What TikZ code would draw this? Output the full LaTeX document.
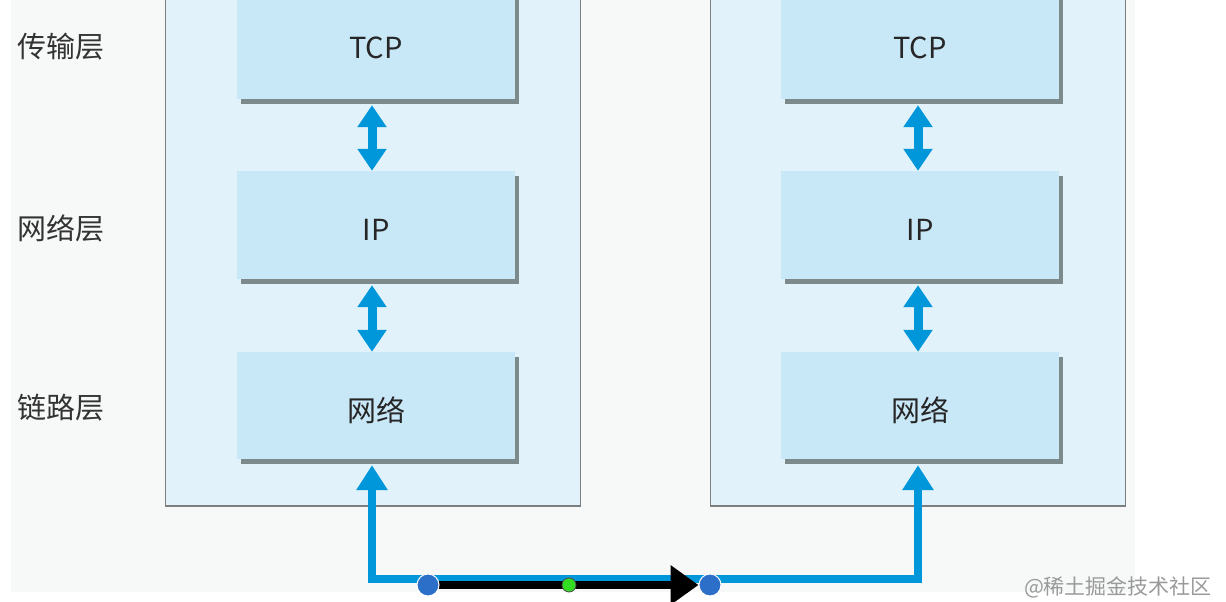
\documentclass[tikz,border=0pt]{standalone}
\usepackage{fontspec}
\setmainfont{Noto Sans CJK SC}
\usetikzlibrary{arrows.meta,shadows}
\definecolor{bg}{HTML}{F7F8F8}
\definecolor{outerfill}{HTML}{E2F2FA}
\definecolor{innerfill}{HTML}{C9E8F7}
\definecolor{bordergray}{HTML}{7B7F80}
\definecolor{shadowgray}{HTML}{7D8A8C}
\definecolor{arrowblue}{HTML}{0096DA}
\definecolor{dotblue}{HTML}{2B6FC8}
\definecolor{dotgreen}{HTML}{33DD22}
\definecolor{wmgray}{HTML}{9A9A9A}
\pgfdeclarelayer{front}
\pgfsetlayers{main,front}
\tikzset{
  outerbox/.style={draw=bordergray, line width=1.5pt, fill=outerfill, minimum width=415pt, inner sep=0pt},
  layerbox/.style={fill=innerfill, minimum width=278pt, inner sep=0pt,
    general shadow={fill=shadowgray, shadow xshift=4pt, shadow yshift=-5pt}},
  layertext/.style={font=\fontsize{29pt}{29pt}\selectfont, text=black!85, inner sep=0pt},
  sidelabel/.style={font=\fontsize{29pt}{29pt}\selectfont, text=black!80, inner sep=0pt},
  dblarrow/.style={draw=arrowblue, line width=9pt,
    {Triangle[length=22pt,width=28pt]}-{Triangle[length=22pt,width=28pt]}},
  buspath/.style={draw=arrowblue, line width=8pt, line join=miter,
    {Triangle[length=25pt,width=30pt]}-{Triangle[length=25pt,width=30pt]}},
  blackarrow/.style={draw=black, line width=8pt, -{Triangle[length=28pt,width=38pt]}},
  bluedot/.style={circle, fill=dotblue, draw=white, line width=1pt, minimum size=22pt, inner sep=0pt},
  greendot/.style={circle, fill=dotgreen, draw=black!70, line width=0.8pt, minimum size=14pt, inner sep=0pt},
  watermark/.style={font=\fontsize{21pt}{21pt}\selectfont, text=wmgray, inner sep=0pt}
}
\begin{document}
\begin{tikzpicture}[x=1pt,y=-1pt]
\useasboundingbox (0,0) rectangle (1226,602);
\clip (0,0) rectangle (1226,602);
\fill[white] (0,0) rectangle (1226,602);
\fill[bg] (11,0) rectangle (1135,592);

% outer host boxes
\node[outerbox, anchor=north west, minimum height=525pt] (hostL) at (164.5,-20) {};
\node[outerbox, anchor=north west, minimum height=525pt] (hostR) at (709.5,-20) {};

% layer boxes
\node[layerbox, minimum height=119pt, label={[layertext,yshift=-8pt]center:TCP}] (tcpL) at (376,39.5) {};
\node[layerbox, minimum height=108pt, label={[layertext,yshift=-5pt]center:IP}] (ipL) at (376,225) {};
\node[layerbox, minimum height=107pt, label={[layertext,yshift=-5pt]center:网络}] (netL) at (376,405.5) {};
\node[layerbox, minimum height=119pt, label={[layertext,yshift=-8pt]center:TCP}] (tcpR) at (920,39.5) {};
\node[layerbox, minimum height=108pt, label={[layertext,yshift=-5pt]center:IP}] (ipR) at (920,225) {};
\node[layerbox, minimum height=107pt, label={[layertext,yshift=-5pt]center:网络}] (netR) at (920,405.5) {};

% side labels
\node[sidelabel] (lT) at (61,47) {传输层};
\node[sidelabel] (lN) at (61,228) {网络层};
\node[sidelabel] (lL) at (61,408) {链路层};

% inter-layer arrows
\path (tcpL.south) ++(-4,6) coordinate (a1) (ipL.north) ++(-4,0) coordinate (b1)
      (ipL.south) ++(-4,6) coordinate (a2) (netL.north) ++(-4,0) coordinate (b2)
      (tcpR.south) ++(-2,6) coordinate (a3) (ipR.north) ++(-2,0) coordinate (b3)
      (ipR.south) ++(-2,6) coordinate (a4) (netR.north) ++(-2,0) coordinate (b4);
\draw[dblarrow] (a1) -- (b1);
\draw[dblarrow] (a2) -- (b2);
\draw[dblarrow] (a3) -- (b3);
\draw[dblarrow] (a4) -- (b4);

% physical link
\coordinate (bus) at (0,579);
\path (netL.south) ++(-4,6) coordinate (upL) (netR.south) ++(-2,6) coordinate (upR);
\draw[buspath] (upL) -- (upL |- bus) -- (upR |- bus) -- (upR);

% dots
\begin{pgfonlayer}{front}
\node[bluedot] (dotA) at (428,585) {};
\node[bluedot] (dotB) at (710,585) {};
\node[greendot] (dotC) at (569,585) {};
\end{pgfonlayer}
\draw[blackarrow] (dotA.center) -- (dotB.west);

% watermark
\node[watermark] (wm) at (1118,587) {@稀土掘金技术社区};
\end{tikzpicture}
\end{document}
